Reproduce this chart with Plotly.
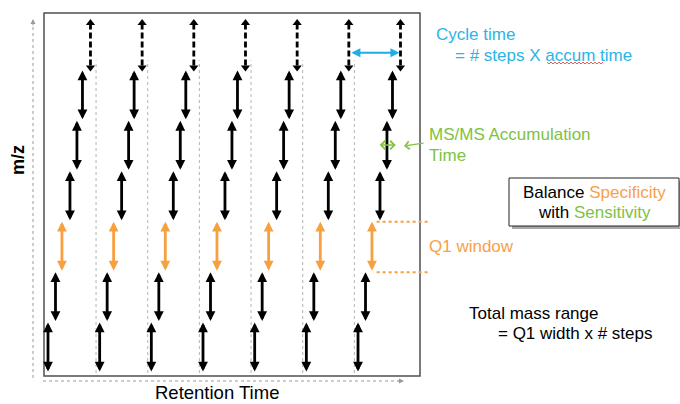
import plotly.graph_objects as go

W, H = 680, 404

# ---- data (retention time in cycle units, m/z in Q1-window units) ----
cycle_start = [0, 1, 2, 3, 4, 5, 6]
step_offset = [0.0, 0.145, 0.27, 0.425, 0.56, 0.667, 0.822]
q1_low = [0, 1, 2, 3, 4, 5, 6]
q1_high = [1, 2, 3, 4, 5, 6, 7]
orange_step = 2
dashed_step = 6

# ---- pixel <-> data mapping (axes span the whole figure) ----
X0_PX, X_SCALE = 48, 51.67
Y0_PX, Y_SCALE = 373, 50.43
xr = [(0 - X0_PX) / X_SCALE, (W - X0_PX) / X_SCALE]
yr = [(Y0_PX - H) / Y_SCALE, Y0_PX / Y_SCALE]


def px(x):
    return x / W


def py(y):
    return 1 - y / H


def px2x(x):
    return (x - X0_PX) / X_SCALE


BLACK = "#000000"
ORANGE = "#F7A040"
ORANGE_T = "#F8A04A"
BLUE = "#1EAEE4"
BLUE_T = "#2BB4E6"
GREEN = "#82C341"
GREEN_T = "#7DC242"
FONT = "Liberation Sans, Arial, sans-serif"

fig = go.Figure()

shapes = []
ann = []


def darrow(x0, y0, x1, y1, color, width=2.8, head=2, size=0.7):
    ann.append(dict(x=x1, y=y1, ax=x0, ay=y0, xref="x", yref="y", axref="x", ayref="y",
                    showarrow=True, text="", arrowhead=head, startarrowhead=head,
                    arrowside="end+start", arrowsize=size, startarrowsize=size,
                    arrowwidth=width, arrowcolor=color, standoff=0, startstandoff=0))


# frame
shapes.append(dict(type="rect", xref="paper", yref="paper", x0=px(44), x1=px(420),
                   y0=py(376), y1=py(13), line=dict(color="#505050", width=1.5)))

# axis arrows (dotted grey)
shapes.append(dict(type="line", xref="paper", yref="paper", x0=px(33), x1=px(33),
                   y0=py(378), y1=py(24), line=dict(color="#9a9a9a", width=1, dash="dot")))
ann.append(dict(x=px(33), y=py(19), ax=0, ay=8, xref="paper", yref="paper", showarrow=True,
                text="", arrowhead=2, arrowsize=1, arrowwidth=1, arrowcolor="#9a9a9a"))
shapes.append(dict(type="line", xref="paper", yref="paper", x0=px(43), x1=px(399),
                   y0=py(381), y1=py(381), line=dict(color="#9a9a9a", width=1, dash="dot")))
ann.append(dict(x=px(404), y=py(381), ax=-8, ay=0, xref="paper", yref="paper", showarrow=True,
                text="", arrowhead=2, arrowsize=1, arrowwidth=1, arrowcolor="#9a9a9a"))

# cycle boundaries (dotted grey)
for c in cycle_start[1:]:
    shapes.append(dict(type="line", xref="x", yref="y", x0=c - 0.07, x1=c - 0.07,
                       y0=q1_low[0], y1=q1_low[dashed_step] + 0.2,
                       line=dict(color="#b4b4b4", width=1, dash="dot")))

# staircase of Q1 windows
dash_x, dash_top, dash_bot = [], [], []
for c in cycle_start:
    for s in range(len(step_offset)):
        x = c + step_offset[s]
        lo, hi = q1_low[s], q1_high[s]
        if s == dashed_step:
            shapes.append(dict(type="line", xref="x", yref="y", x0=x, x1=x, y0=lo + 0.1,
                               y1=hi - 0.1, line=dict(color=BLACK, width=2.8, dash="6px,3px")))
            dash_x.append(x)
            dash_top.append(hi - 0.06)
            dash_bot.append(lo + 0.06)
        else:
            col = ORANGE if s == orange_step else BLACK
            darrow(x, lo, x, hi, col)

fig.add_trace(go.Scatter(x=dash_x, y=dash_top, mode="markers", showlegend=False, hoverinfo="skip",
                         marker=dict(symbol="triangle-up", size=8, color=BLACK, line=dict(width=0))))
fig.add_trace(go.Scatter(x=dash_x, y=dash_bot, mode="markers", showlegend=False, hoverinfo="skip",
                         marker=dict(symbol="triangle-down", size=8, color=BLACK, line=dict(width=0))))

# cycle time arrow
yb = q1_low[dashed_step] + 0.35
darrow(cycle_start[-2] + step_offset[dashed_step] + 0.02, yb,
       cycle_start[-1] + step_offset[dashed_step] - 0.02, yb, BLUE, width=2, head=2, size=0.9)

# MS/MS accumulation arrow
xg = cycle_start[-1] + step_offset[4]
yg = q1_low[4] + 0.52
darrow(xg - 0.17, yg, xg + 0.17, yg, GREEN, width=1.5, head=4, size=1.1)
ann.append(dict(x=px(404), y=py(146), ax=21, ay=-3, xref="paper", yref="paper",
                showarrow=True, text="", arrowhead=4, arrowsize=1.2, arrowwidth=1.3,
                arrowcolor=GREEN))

# Q1 window dotted guides
xq = cycle_start[-1] + step_offset[orange_step] + 0.09
for yq in (q1_low[orange_step], q1_high[orange_step]):
    shapes.append(dict(type="line", xref="x", yref="y", x0=xq, x1=px2x(428), y0=yq, y1=yq,
                       line=dict(color=ORANGE, width=2, dash="dot")))

# Balance box with shadow
shapes.append(dict(type="rect", xref="paper", yref="paper", x0=px(512), x1=px(682),
                   y0=py(229), y1=py(181), line=dict(width=0), fillcolor="#a8a8a8"))
shapes.append(dict(type="rect", xref="paper", yref="paper", x0=px(509), x1=px(679),
                   y0=py(226), y1=py(178), line=dict(color="#222", width=1), fillcolor="white"))

# red wavy spell-check underline under "accum"
xs = 547
pts = []
i = 0
while xs <= 603:
    pts.append((xs, 63 + (1 if i % 2 else -1) * 1.0))
    xs += 2
    i += 1
path = "M " + " L ".join(f"{px(a):.5f},{py(b):.5f}" for a, b in pts)
shapes.append(dict(type="path", xref="paper", yref="paper", path=path,
                   line=dict(color="#e03030", width=0.8)))


def text(x, y, s, color=BLACK, size=17, anchor="left", **kw):
    ann.append(dict(x=px(x), y=py(y), xref="paper", yref="paper", text=s, showarrow=False,
                    xanchor=anchor, yanchor="middle", font=dict(family=FONT, size=size, color=color),
                    **kw))


text(434, 35, "Cycle time", BLUE_T)
text(453, 55, "= # steps X accum time", BLUE_T)
text(427, 134, "MS/MS Accumulation", GREEN_T)
text(427, 155, "Time", GREEN_T)
text(594, 192, "Balance <span style='color:%s'>Specificity</span>" % ORANGE_T, anchor="center")
text(594, 212, "with <span style='color:%s'>Sensitivity</span>" % GREEN_T, anchor="center")
text(427, 246, "Q1 window", ORANGE_T)
text(467, 313, "Total mass range", BLACK)
text(496, 333, "= Q1 width x # steps", BLACK)
text(217, 392, "Retention Time", BLACK, size=18.5, anchor="center")
text(18, 160, "<b>m/z</b>", BLACK, size=18, anchor="center", textangle=-90)

fig.update_layout(
    width=W, height=H, margin=dict(l=0, r=0, t=0, b=0, pad=0),
    paper_bgcolor="white", plot_bgcolor="white", showlegend=False,
    xaxis=dict(range=xr, visible=False, fixedrange=True),
    yaxis=dict(range=yr, visible=False, fixedrange=True),
    shapes=shapes, annotations=ann,
)

fig.write_html("out.html", config={"displayModeBar": False},
               post_script="document.body.style.margin='0';document.body.style.overflow='hidden';")
